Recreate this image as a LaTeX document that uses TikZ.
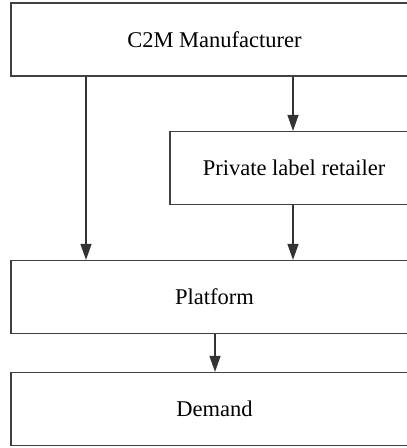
\documentclass[tikz,border=0pt]{standalone}
\usepackage{fontspec}
\setmainfont{Liberation Serif}
\usetikzlibrary{arrows.meta}
\begin{document}
\begin{tikzpicture}[x=1pt,y=-1pt,
  box/.style={draw=black!75,line width=1.2pt,fill=white,inner sep=0pt,
    minimum width=407pt,minimum height=73pt,font=\fontsize{22.5}{26}\selectfont},
  arr/.style={draw=black!80,line width=1.2pt,-{Triangle[width=11pt,length=16pt]}}]
\useasboundingbox (0,0) rectangle (407,448);
\clip (0,0) rectangle (407,448);
\node[box] (m) at (214.5,39.5) {C2M Manufacturer};
\node[box,minimum width=248pt] (r) at (294,168) {Private label retailer};
\node[box] (p) at (214.5,297) {Platform};
\node[box] (d) at (214.5,409) {Demand};
\draw[arr] (m.south -| 86,0) -- (p.north -| 86,0);
\draw[arr] (m.south -| 293,0) -- (r.north -| 293,0);
\draw[arr] (r.south -| 293,0) -- (p.north -| 293,0);
\draw[arr] (p.south -| 215,0) -- (d.north -| 215,0);
\end{tikzpicture}
\end{document}
